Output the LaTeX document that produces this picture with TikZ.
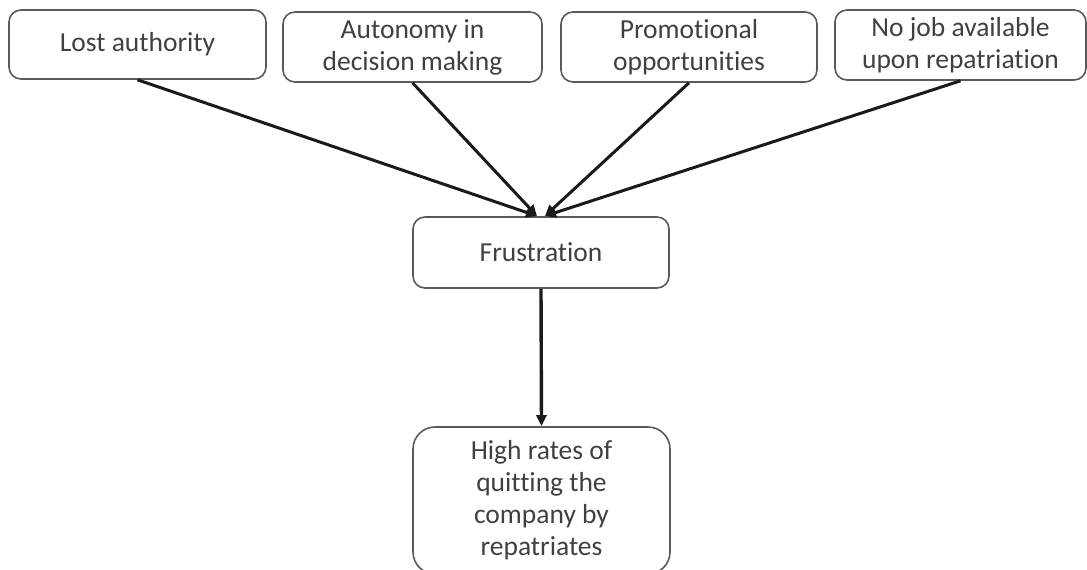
\documentclass[tikz,border=0pt]{standalone}
\usepackage{fontspec}
\setmainfont{Carlito}[Ligatures={NoCommon,NoContextual}]
\usetikzlibrary{arrows.meta}
\definecolor{boxline}{HTML}{5A5A5A}
\definecolor{txt}{HTML}{404040}
\definecolor{arr}{HTML}{1A1A1A}
\tikzset{
  box/.style={draw=boxline, line width=1.6pt, rounded corners=12pt, inner sep=0pt,
    align=center, text=txt, font=\fontsize{27.5}{32}\selectfont},
  conn/.style={draw=arr, line width=3pt, -{Triangle[length=11pt,width=10pt]}}
}
\begin{document}
\begin{tikzpicture}[x=1pt,y=-1pt]
\useasboundingbox (0,0) rectangle (1087,570);
\clip (0,0) rectangle (1087,570);
\node[box, minimum width=257pt, minimum height=69pt] (b1) at (137.5,44.5) {Lost authority};
\node[box, minimum width=259pt, minimum height=70pt] (b2) at (412.5,47) {Autonomy in\\decision making};
\node[box, minimum width=256pt, minimum height=70pt] (b3) at (689,47) {Promotional\\opportunities};
\node[box, minimum width=251pt, minimum height=70pt] (b4) at (960.5,45) {No job available\\upon repatriation};
\node[box, minimum width=256pt, minimum height=71pt] (fr) at (541,252.5) {Frustration};
\node[box, rounded corners=22pt, minimum width=257pt, minimum height=147pt] (hq) at (541.5,500.5) {High rates of\\quitting the\\company by\\repatriates};
\coordinate (inL) at (537,216);
\coordinate (inR) at (545,216);
\draw[conn] (b1.south) -- (inL);
\draw[conn] (b2.south) -- (inL);
\draw[conn] (b3.south) -- (inR);
\draw[conn] (b4.south) -- (inR);
\draw[conn, line width=3.4pt] (fr.south) -- (hq.north);
\end{tikzpicture}
\end{document}
